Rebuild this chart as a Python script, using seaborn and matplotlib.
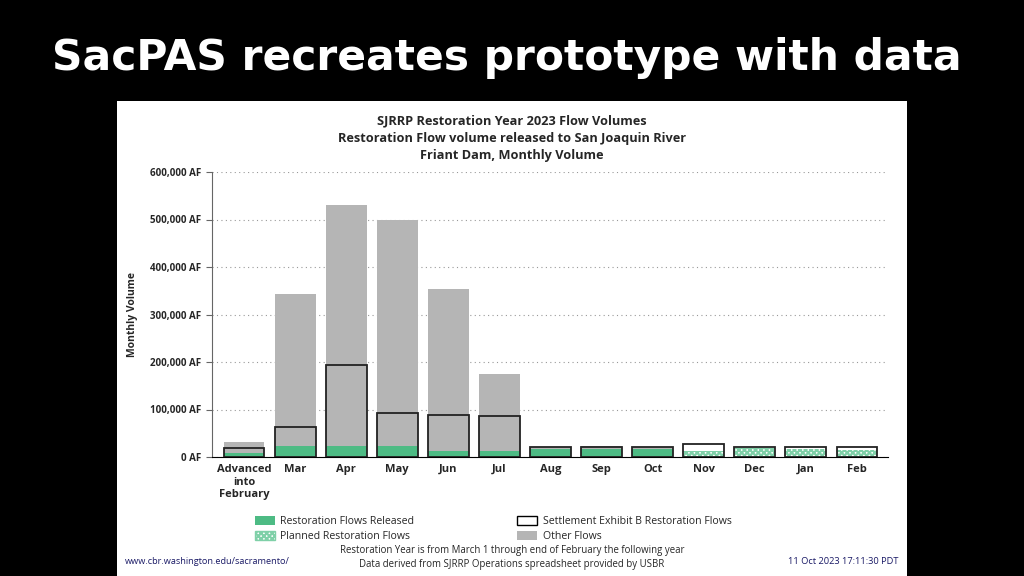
import seaborn as sns
import numpy as np
import matplotlib.pyplot as plt
from matplotlib.patches import Rectangle, Patch
from matplotlib.ticker import FuncFormatter

months = ["Advanced\ninto\nFebruary", "Mar", "Apr", "May", "Jun", "Jul",
          "Aug", "Sep", "Oct", "Nov", "Dec", "Jan", "Feb"]
released = [8000, 23000, 23000, 23000, 12000, 12000, 16000, 16000, 16500, 0, 0, 0, 0]
planned = [0, 0, 0, 0, 0, 0, 0, 0, 0, 12000, 20000, 17000, 14000]
other = [23500, 320000, 507000, 476000, 342000, 163000, 5500, 8000, 4000, 0, 0, 0, 0]
settlement = [19500, 63000, 194000, 92000, 88000, 86000, 21500, 21500, 20500, 27000, 21000, 21000, 21000]

green = "#4dbb84"
gray = "#b5b5b5"

sns.set_style("white")
plt.rcParams['font.family'] = ['Open Sans', 'DejaVu Sans']
plt.rcParams['hatch.linewidth'] = 1.6

fig = plt.figure(figsize=(10.24, 5.76), dpi=100, facecolor="black")
fig.patches.append(Rectangle((117/1024, 0), 790/1024, 475/576, transform=fig.transFigure,
                             facecolor="white", edgecolor="none", zorder=-5))
fig.text(52/1024, 1 - 58/576, "SacPAS recreates prototype with data", color="white",
         fontsize=30.5, fontweight="bold", family="DejaVu Sans", va="center", ha="left")

ax = fig.add_axes([212/1024, 119/576, 676/1024, 285/576])
ax.set_facecolor("white")

rel = np.array(released)
total = rel + np.array(other)
rel_plan = rel + np.array(planned)
w = 0.8
sns.barplot(x=months, y=total, color=gray, width=w, saturation=1, linewidth=0, ax=ax, zorder=2)
sns.barplot(x=months, y=rel_plan, color="white", width=w, saturation=1, linewidth=0,
            hatch="xxxxxx", edgecolor="#7fd0a8", ax=ax, zorder=3)
sns.barplot(x=months, y=released, color=green, width=w, saturation=1, linewidth=0, ax=ax, zorder=4)
sns.barplot(x=months, y=settlement, fill=False, width=w, edgecolor="#222222", linewidth=1.3,
            ax=ax, zorder=5)

ax.set_ylim(0, 600000)
ax.set_yticks(np.arange(0, 600001, 100000))
ax.yaxis.set_major_formatter(FuncFormatter(lambda v, p: f"{int(v):,} AF"))
ax.grid(axis="y", linestyle=(0, (1, 3)), color="#999999", linewidth=0.8, zorder=0)
ax.set_axisbelow(True)
for s in ["top", "right"]:
    ax.spines[s].set_visible(False)
ax.spines["left"].set_color("#666666")
ax.spines["bottom"].set_color("black")
ax.tick_params(axis="y", length=4, color="#666666", labelsize=7, left=True)
ax.tick_params(axis="x", length=0, labelsize=8, pad=5)
for t in ax.get_yticklabels() + ax.get_xticklabels():
    t.set_fontweight("bold")
ax.set_ylabel("Monthly Volume", fontsize=7.5, fontweight="bold", labelpad=9)
ax.set_xlim(-0.627, 12.608)

fig.text(0.5, 1 - 138.5/576, "SJRRP Restoration Year 2023 Flow Volumes\n"
         "Restoration Flow volume released to San Joaquin River\nFriant Dam, Monthly Volume",
         ha="center", va="center", fontsize=9.2, fontweight="bold", linespacing=1.42)

handles = [Patch(facecolor=green, edgecolor="none", label="Restoration Flows Released"),
           Patch(facecolor="white", edgecolor="#7fd0a8", hatch="xxxxxx", label="Planned Restoration Flows"),
           Patch(facecolor="white", edgecolor="black", label="Settlement Exhibit B Restoration Flows"),
           Patch(facecolor=gray, edgecolor="none", label="Other Flows")]
fig.legend(handles=handles, ncol=2, loc="center left", bbox_to_anchor=(245/1024, 1 - 529/576),
           frameon=False, handlelength=1.9, handleheight=0.9, columnspacing=9.8,
           labelspacing=0.35, handletextpad=0.5, prop={"size": 7.6})

fig.text(125/1024, 1 - 562/576, "www.cbr.washington.edu/sacramento/", color="#1a1a66",
         fontsize=6.6, va="center", ha="left")
fig.text(512/1024, 1 - 557.5/576, "Restoration Year is from March 1 through end of February the following year\n"
         "Data derived from SJRRP Operations spreadsheet provided by USBR",
         fontsize=6.9, va="center", ha="center", linespacing=1.35)
fig.text(898/1024, 1 - 562/576, "11 Oct 2023 17:11:30 PDT", color="#1a1a66",
         fontsize=6.7, va="center", ha="right")

fig.savefig("out.png", dpi=100, facecolor="black")
